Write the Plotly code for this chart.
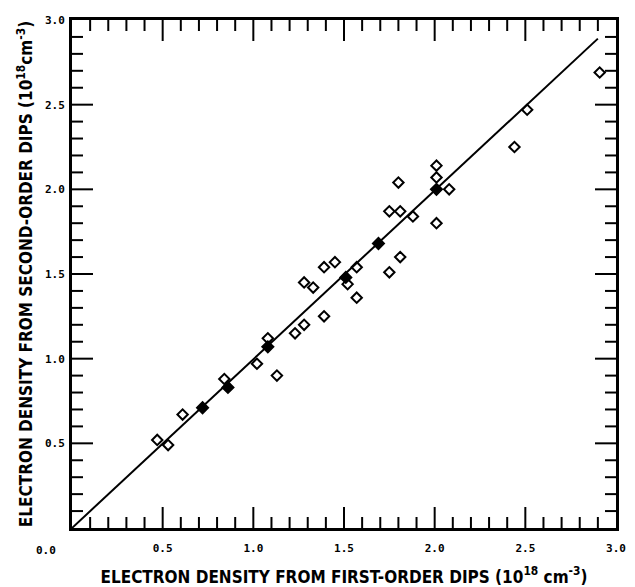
import plotly.graph_objects as go

# Electron density comparison (units of 1e18 cm^-3)
first_order = [0.47, 0.53, 0.61, 0.84, 1.02, 1.08, 1.13, 1.23, 1.28, 1.28, 1.33,
               1.39, 1.45, 1.52, 1.57, 1.57, 1.39, 1.75, 1.81, 1.75, 1.81, 1.80,
               1.88, 2.01, 2.01, 2.08, 2.01, 2.44, 2.51, 2.91]
second_order = [0.52, 0.49, 0.67, 0.88, 0.97, 1.12, 0.90, 1.15, 1.20, 1.45, 1.42,
                1.54, 1.57, 1.44, 1.54, 1.36, 1.25, 1.51, 1.60, 1.87, 1.87, 2.04,
                1.84, 2.14, 2.07, 2.00, 1.80, 2.25, 2.47, 2.69]

# points lying on the fitted line
first_on_line = [0.72, 0.86, 1.08, 1.51, 1.69, 2.01]
second_on_line = [0.71, 0.83, 1.07, 1.48, 1.68, 2.00]

# fitted line end points
fit_x = [0.0, 2.90]
fit_y = [0.0, 2.89]

# axis scale
axis_max = 3.0
major_ticks = [0.5, 1.0, 1.5, 2.0, 2.5]
minor_ticks = [i / 10 for i in range(1, 30) if i % 5 != 0]
origin_label = "0.0"

# figure geometry
W, H = 635, 587
M = dict(l=72, r=19, t=20, b=59)
plot_w = W - M["l"] - M["r"]
plot_h = H - M["t"] - M["b"]

title_font = dict(family="DejaVu Sans Condensed, Liberation Sans Narrow, DejaVu Sans",
                  size=17, color="black", weight="bold")
tick_font = dict(family="DejaVu Sans Mono", size=11, color="black", weight="bold")

fig = go.Figure()
fig.add_trace(go.Scatter(x=fit_x, y=fit_y, mode="lines",
                         line=dict(color="black", width=2), hoverinfo="skip"))


def add_frame_ticks(fig, values, length_px):
    """Inward tick marks on all four sides, each one a two-point line."""
    lx = length_px * axis_max / plot_w
    ly = length_px * axis_max / plot_h
    style = dict(color="black", width=2)
    for v in values:
        for xs, ys in (([v, v], [0, ly]),
                       ([v, v], [axis_max, axis_max - ly]),
                       ([0, lx], [v, v]),
                       ([axis_max, axis_max - lx], [v, v])):
            fig.add_trace(go.Scatter(x=xs, y=ys, mode="lines", line=style,
                                     hoverinfo="skip", cliponaxis=False))


add_frame_ticks(fig, major_ticks, 21)
add_frame_ticks(fig, minor_ticks, 11)

fig.add_trace(go.Scatter(x=first_order, y=second_order, mode="markers",
                         marker=dict(symbol="diamond-open", size=8, color="black",
                                     line=dict(color="black", width=2))))
fig.add_trace(go.Scatter(x=first_on_line, y=second_on_line, mode="markers",
                         marker=dict(symbol="diamond", size=9, color="black",
                                     line=dict(color="black", width=1.5))))

axis_common = dict(
    range=[0, axis_max], tickmode="linear", tick0=0, dtick=0.5, tickformat=".1f",
    labelalias={"0.0": " "}, automargin=False,
    showline=True, linecolor="black", linewidth=3, mirror=True,
    showgrid=False, zeroline=False, tickfont=tick_font,
)

fig.update_layout(
    width=W, height=H,
    margin=M,
    paper_bgcolor="white", plot_bgcolor="white",
    showlegend=False,
    xaxis=dict(**axis_common, ticklabelstandoff=8,
               title=dict(text="ELECTRON DENSITY FROM FIRST-ORDER DIPS (10<sup>18</sup> cm<sup>-3</sup>)",
                          font=title_font, standoff=17)),
    yaxis=dict(**axis_common, ticklabelstandoff=2,
               title=dict(text="ELECTRON DENSITY FROM SECOND-ORDER DIPS (10<sup>18</sup>cm<sup>-3</sup>)",
                          font=title_font, standoff=8)),
    annotations=[dict(text=origin_label, x=0, y=0, xref="x", yref="y", showarrow=False,
                      xanchor="right", yanchor="top", xshift=-14, yshift=-14,
                      font=tick_font)],
)

fig.write_html("out.html")
